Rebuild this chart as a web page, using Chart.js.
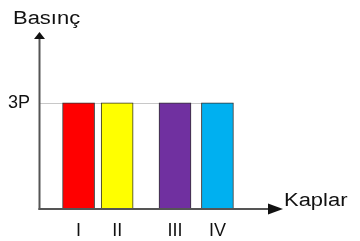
<!DOCTYPE html>
<html><head><meta charset="utf-8">
<script src="https://cdn.jsdelivr.net/npm/chart.js@4"></script>
<style>html,body{margin:0;padding:0;background:#fff}#w{width:360px;height:241px;position:relative}</style>
</head><body><div id="w"><canvas id="c"></canvas></div>
<script>
const categories = ['I', 'II', 'III', 'IV'];
const positions = [1, 2, 3.5, 4.6];
const pressures = [3, 3, 3, 3];
const yTickValues = [3];
const yTickLabels = ['3P'];
const barColors = ['#FF0000', '#FFFF00', '#7030A0', '#00B0F0'];
const yTitle = 'Basınç';
const xTitle = 'Kaplar';

Chart.defaults.font.family = '"Liberation Sans", Arial, sans-serif';

const axesPlugin = {
  id: 'axesArrows',
  beforeDatasetsDraw(chart) {
    const { ctx, chartArea: a, scales: { y } } = chart;
    const meta = chart.getDatasetMeta(0);
    const last = meta.data[meta.data.length - 1];
    const right = last.x + last.width / 2;
    ctx.save();
    ctx.strokeStyle = '#c8c8c8';
    ctx.lineWidth = 1;
    yTickValues.forEach(v => {
      const py = Math.round(y.getPixelForValue(v)) + 0.5;
      ctx.beginPath(); ctx.moveTo(a.left, py); ctx.lineTo(right, py); ctx.stroke();
    });
    ctx.restore();
  },
  afterDraw(chart) {
    const { ctx, chartArea: a } = chart;
    ctx.save();
    ctx.strokeStyle = '#555';
    ctx.fillStyle = '#111';
    ctx.lineWidth = 2;
    const ax = a.left - 0.5;
    // y axis
    ctx.beginPath(); ctx.moveTo(ax, a.bottom + 1); ctx.lineTo(ax, a.top + 6); ctx.stroke();
    ctx.beginPath(); ctx.moveTo(ax, a.top); ctx.lineTo(ax - 5.5, a.top + 7); ctx.lineTo(ax + 5.5, a.top + 7); ctx.closePath(); ctx.fill();
    // x axis
    ctx.beginPath(); ctx.moveTo(ax - 1, a.bottom); ctx.lineTo(a.right - 12, a.bottom); ctx.stroke();
    ctx.beginPath(); ctx.moveTo(a.right, a.bottom); ctx.lineTo(a.right - 15, a.bottom - 5.5); ctx.lineTo(a.right - 15, a.bottom + 5.5); ctx.closePath(); ctx.fill();
    // titles
    ctx.font = '18px "Liberation Sans", Arial, sans-serif';
    ctx.textBaseline = 'alphabetic';
    ctx.textAlign = 'left';
    ctx.save(); ctx.translate(a.left - 27, a.top - 8); ctx.scale(1.22, 1); ctx.fillText(yTitle, 0, 0); ctx.restore();
    ctx.save(); ctx.translate(a.right + 1, a.bottom - 3); ctx.scale(1.22, 1); ctx.fillText(xTitle, 0, 0); ctx.restore();
    ctx.restore();
  }
};

new Chart(document.getElementById('c'), {
  type: 'bar',
  data: {
    datasets: [{
      data: positions.map((x, i) => ({ x: x, y: pressures[i] })),
      backgroundColor: barColors,
      borderColor: '#333',
      borderWidth: 1,
      barThickness: 32
    }]
  },
  options: {
    responsive: true,
    maintainAspectRatio: false,
    animation: false,
    layout: { padding: { top: 32, right: 77, left: 0, bottom: 0 } },
    plugins: { legend: { display: false }, tooltip: { enabled: false } },
    scales: {
      x: {
        type: 'linear', min: 0, max: 6.3, offset: false,
        grid: { display: false }, border: { display: false },
        afterBuildTicks: s => { s.ticks = positions.map(v => ({ value: v })); },
        afterFit: s => { s.height = 32; },
        ticks: {
          autoSkip: false, maxRotation: 0, padding: 3, color: '#111', font: { size: 18 },
          callback: v => categories[positions.indexOf(v)]
        }
      },
      y: {
        min: 0, max: 5,
        grid: { display: false }, border: { display: false },
        afterBuildTicks: s => { s.ticks = yTickValues.map(v => ({ value: v })); },
        afterFit: s => { s.width = 40; },
        ticks: {
          padding: 2, color: '#111', font: { size: 18 },
          callback: v => yTickLabels[yTickValues.indexOf(v)]
        }
      }
    }
  },
  plugins: [axesPlugin]
});
</script>
</body></html>
